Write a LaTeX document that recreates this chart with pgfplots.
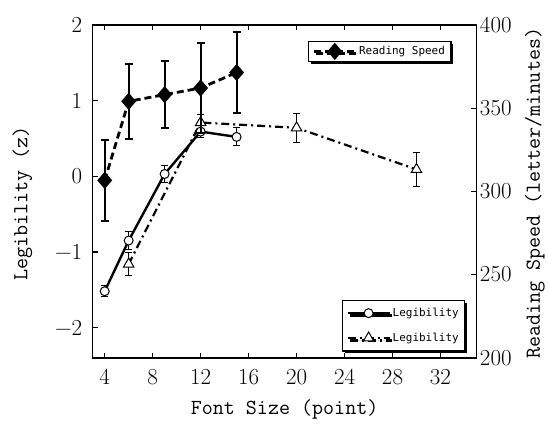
\documentclass[border=0pt]{standalone}
\usepackage{fontspec}
\usepackage{pgfplots}
\pgfplotsset{compat=1.18}
\usetikzlibrary{shadows}
\newfontfamily\legfont{DejaVu Sans Mono}

% reading speed (letter/minutes), right axis
\pgfplotstableread{
x y e
4 306.6 24.2
6 354.1 22.7
9 358.1 20.3
12 362.1 27.2
15 371.4 24.6
}\speed
% legibility (z), circles
\pgfplotstableread{
x y e
4 -1.52 0.07
6 -0.85 0.12
9 0.03 0.11
12 0.59 0.08
15 0.52 0.12
}\legA
% legibility (z), triangles
\pgfplotstableread{
x y e
6 -1.16 0.15
12 0.71 0.10
20 0.64 0.19
30 0.09 0.22
}\legB

\pgfplotsset{
  common/.style={
    scale only axis, width=385pt, height=334pt,
    xmin=3, xmax=35,
    /pgf/number format/assume math mode=true,
    tick align=inside, major tick length=5pt,
    every tick/.style={black, line width=1.2pt},
    axis line style={line width=1.5pt},
    tick label style={font=\fontsize{23}{26}\selectfont},
    label style={font=\fontsize{21.5}{24}\ttfamily},
    legend style={draw=black, line width=1.2pt, fill=white,
      font=\fontsize{11}{13}\legfont, legend cell align=left,
      drop shadow={shadow xshift=2.5pt, shadow yshift=-2.5pt, fill=black, opacity=1}},
    legend image code/.code={\draw[mark repeat=2,mark phase=2] plot coordinates {(0pt,0pt) (21pt,0pt) (42pt,0pt)};},
  },
}

\begin{document}
\begin{tikzpicture}
\begin{axis}[common,
  ymin=-2.4, ymax=2,
  xtick={4,8,...,32}, ytick={-2,-1,0,1,2},
  yticklabels={−2,−1,0,1,2},
  xtick pos=both, ytick pos=left,
  xticklabel style={yshift=-8pt},
  yticklabel style={xshift=-7pt},
  xlabel={Font Size (point)},
  ylabel={Legibility (z)},
  xlabel style={at={(axis description cs:0.5,-0.156)}, anchor=center},
  ylabel style={at={(axis description cs:-0.183,0.463)}, anchor=center},
  legend style={at={(0.971,0.019)}, anchor=south east, row sep=11pt,
    inner xsep=4pt, inner ysep=6pt},
]
\addplot[black, line width=2.4pt, mark=*, mark size=4.5pt,
  mark options={fill=white, line width=1pt},
  error bars/.cd, y dir=both, y explicit,
  error bar style={line width=1pt, solid},
  error mark options={rotate=90, mark size=3.5pt, line width=1pt}]
  table[x=x, y=y, y error=e] {\legA};
\addlegendentry{Legibility}
\addplot[black, line width=2.2pt, dash pattern=on 8pt off 4pt on 2pt off 4pt,
  mark=triangle*, mark size=6pt,
  mark options={fill=white, line width=1pt, solid},
  error bars/.cd, y dir=both, y explicit,
  error bar style={line width=1pt, solid},
  error mark options={rotate=90, mark size=3.5pt, line width=1pt}]
  table[x=x, y=y, y error=e] {\legB};
\addlegendentry{Legibility}
\end{axis}
\begin{axis}[common,
  ymin=200, ymax=400,
  axis x line=none, axis y line*=right,
  ytick={200,250,...,400},
  ylabel={Reading Speed (letter/minutes)},
  ylabel style={at={(axis description cs:1.152,0.494)}, anchor=center},
  legend style={at={(0.935,0.952)}, anchor=north east,
    inner xsep=4pt, inner ysep=3pt},
]
\addplot[black, line width=2.8pt, dash pattern=on 7pt off 4pt,
  mark=diamond*, mark size=6.5pt, mark options={solid, fill=black, xscale=1.15},
  error bars/.cd, y dir=both, y explicit,
  error bar style={line width=2pt, solid},
  error mark options={rotate=90, mark size=4pt, line width=2pt}]
  table[x=x, y=y, y error=e] {\speed};
\addlegendentry{Reading Speed}
\end{axis}
\useasboundingbox (-93pt,-68pt) rectangle (455pt,359pt);
\end{tikzpicture}
\end{document}
